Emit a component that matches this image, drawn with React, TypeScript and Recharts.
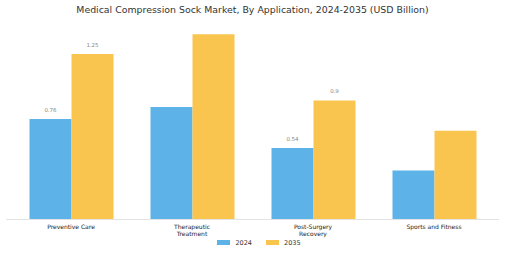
import React from "react";
import { BarChart, Bar, XAxis, YAxis, LabelList } from "recharts";

const categories = ["Preventive Care", "Therapeutic\nTreatment", "Post-Surgery\nRecovery", "Sports and Fitness"];
const values2024 = [0.76, 0.85, 0.54, 0.37];
const values2035 = [1.25, 1.4, 0.9, 0.67];
// only some bars carry a value label in the original
const labels2024 = ["0.76", "", "0.54", ""];
const labels2035 = ["1.25", "", "0.9", ""];

const BLUE = "#5db3e7";
const YELLOW = "#f9c54e";
const FONT = "'DejaVu Sans', sans-serif";

const data = categories.map((name, i) => ({
  name,
  y2024: values2024[i],
  y2035: values2035[i],
  l2024: labels2024[i],
  l2035: labels2035[i],
}));

function MultiLineTick({ x, y, payload }: any) {
  const lines = String(payload.value).split("\n");
  return (
    <text x={x} y={y} textAnchor="middle" fontSize={6} fill="#222" fontFamily={FONT}>
      {lines.map((line, i) => (
        <tspan key={i} x={x} dy={i === 0 ? 1 : 7.3}>
          {line}
        </tspan>
      ))}
    </text>
  );
}

export default function App() {
  const valueLabel = { position: "top" as const, offset: 7, fontSize: 5.5, fill: "#888", fontFamily: FONT };

  return (
    <div style={{ position: "absolute", left: 0, top: 0, width: 505, height: 253, background: "#fff" }}>
      <div
        style={{
          position: "absolute",
          top: 4,
          left: 0,
          width: 505,
          textAlign: "center",
          fontFamily: FONT,
          fontSize: 9.4,
          color: "#333",
          whiteSpace: "nowrap",
        }}
      >
        Medical Compression Sock Market, By Application, 2024-2035 (USD Billion)
      </div>
      <BarChart
        width={505}
        height={253}
        data={data}
        margin={{ top: 21, right: 6, bottom: 0, left: 6 }}
        barGap={0}
        barSize={42}
      >
        <XAxis
          dataKey="name"
          interval={0}
          axisLine={{ stroke: "#e3e3e3" }}
          tickLine={false}
          tick={<MultiLineTick />}
          padding={{ left: 4.5, right: 4.5 }}
          height={33.5}
        />
        <YAxis hide domain={[0, 1.5]} />
        <Bar dataKey="y2024" fill={BLUE} isAnimationActive={false}>
          <LabelList dataKey="l2024" {...valueLabel} />
        </Bar>
        <Bar dataKey="y2035" fill={YELLOW} isAnimationActive={false}>
          <LabelList dataKey="l2035" {...valueLabel} />
        </Bar>
      </BarChart>
      <div
        style={{
          position: "absolute",
          top: 238.5,
          left: 0,
          width: 505,
          display: "flex",
          justifyContent: "center",
          alignItems: "center",
          fontFamily: FONT,
          fontSize: 6.5,
          color: "#333",
        }}
      >
        <span style={{ display: "inline-block", width: 13, height: 5, background: BLUE, marginLeft: 13, marginRight: 5 }} />
        <span>2024</span>
        <span style={{ display: "inline-block", width: 13, height: 5, background: YELLOW, marginLeft: 14, marginRight: 5 }} />
        <span>2035</span>
      </div>
    </div>
  );
}
